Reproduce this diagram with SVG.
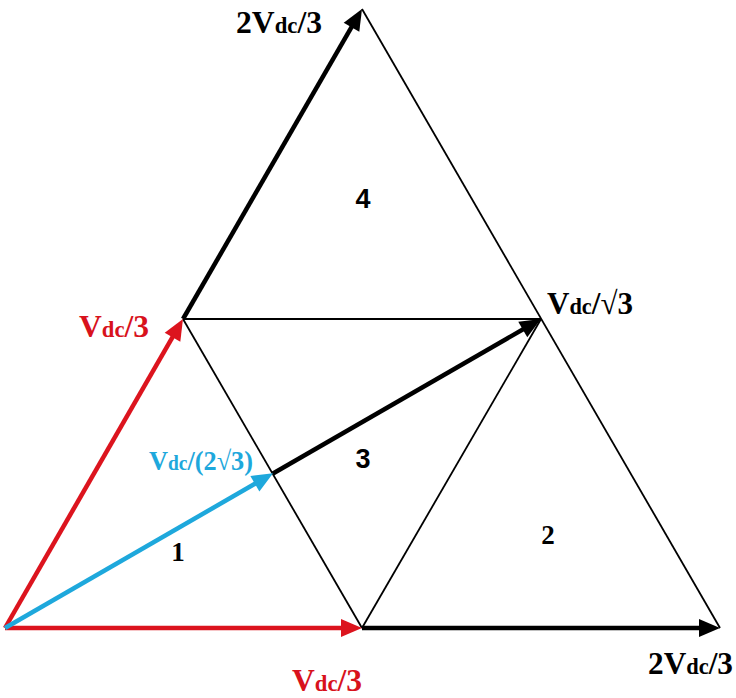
<svg xmlns="http://www.w3.org/2000/svg" width="736" height="698" viewBox="0 0 736 698">
<style>
.thin{stroke:#000;stroke-width:1.8;fill:none}
.vec{stroke-width:4.5;fill:none}
.blk{stroke:#000}
.red{stroke:#dc141e}
.cyan{stroke:#1ea8dc}
.lbl{font-family:"Liberation Serif","Times New Roman",serif;font-weight:bold}
.big{font-size:32px}
.sm{font-size:23px}
.num{font-size:27px;font-weight:bold}
.serif{font-family:"Liberation Serif","Times New Roman",serif}
.sans{font-family:"Liberation Sans",Arial,sans-serif}
</style>
<defs>
<marker id="ahB" markerUnits="userSpaceOnUse" markerWidth="24" markerHeight="22" viewBox="-12 -11 24 22" refX="0" refY="0" orient="auto"><path d="M10,0 L-11,-9 L-11,9 Z" fill="#000"/></marker>
<marker id="ahR" markerUnits="userSpaceOnUse" markerWidth="24" markerHeight="22" viewBox="-12 -11 24 22" refX="0" refY="0" orient="auto"><path d="M10,0 L-11,-9 L-11,9 Z" fill="#dc141e"/></marker>
<marker id="ahC" markerUnits="userSpaceOnUse" markerWidth="24" markerHeight="22" viewBox="-12 -11 24 22" refX="0" refY="0" orient="auto"><path d="M10,0 L-11,-9 L-11,9 Z" fill="#1ea8dc"/></marker>
</defs>
<rect width="736" height="698" fill="#fff"/>
<g id="connectors">
<line class="thin" x1="362" y1="9" x2="720" y2="628"/>
<line class="thin" x1="183" y1="319" x2="541" y2="319"/>
<line class="thin" x1="183" y1="319" x2="362" y2="628"/>
<line class="thin" x1="362" y1="628" x2="541" y2="319"/>
<line class="vec red" x1="5" y1="628" x2="352" y2="628" marker-end="url(#ahR)"/>
<line class="vec blk" x1="362" y1="628" x2="710" y2="628" marker-end="url(#ahB)"/>
<line class="vec red" x1="5" y1="628" x2="178" y2="327.7" marker-end="url(#ahR)"/>
<line class="vec blk" x1="183" y1="319" x2="357" y2="17.7" marker-end="url(#ahB)"/>
<line class="vec cyan" x1="5" y1="628" x2="264.4" y2="478.3" marker-end="url(#ahC)"/>
<line class="vec blk" x1="273" y1="473.5" x2="532.3" y2="324" marker-end="url(#ahB)"/>
</g>
<g id="label-top"><text class="lbl" x="236" y="33" textLength="86" lengthAdjust="spacingAndGlyphs"><tspan class="big">2V</tspan><tspan class="sm">dc</tspan><tspan class="big">/3</tspan></text></g>
<g id="label-left" fill="#d8121c"><text class="lbl" x="79" y="337" textLength="70" lengthAdjust="spacingAndGlyphs"><tspan class="big">V</tspan><tspan class="sm">dc</tspan><tspan class="big">/3</tspan></text></g>
<g id="label-mid"><text class="lbl" x="547" y="314" textLength="86" lengthAdjust="spacingAndGlyphs"><tspan class="big">V</tspan><tspan class="sm">dc</tspan><tspan class="big">/√3</tspan></text></g>
<g id="label-cyan" fill="#1ea8dc"><text class="lbl" x="149" y="470" textLength="104" lengthAdjust="spacingAndGlyphs"><tspan font-size="27">V</tspan><tspan font-size="20">dc</tspan><tspan font-size="27">/(2√3)</tspan></text></g>
<g id="label-bottom" fill="#d8121c"><text class="lbl" x="292" y="691" textLength="70" lengthAdjust="spacingAndGlyphs"><tspan class="big">V</tspan><tspan class="sm">dc</tspan><tspan class="big">/3</tspan></text></g>
<g id="label-right"><text class="lbl" x="648" y="674" textLength="85" lengthAdjust="spacingAndGlyphs"><tspan class="big">2V</tspan><tspan class="sm">dc</tspan><tspan class="big">/3</tspan></text></g>
<g id="region-1"><text class="num serif" x="178" y="561" text-anchor="middle">1</text></g>
<g id="region-2"><text class="num serif" x="548" y="544" text-anchor="middle">2</text></g>
<g id="region-3"><text class="num sans" x="363" y="468" text-anchor="middle">3</text></g>
<g id="region-4"><text class="num sans" x="363" y="208" text-anchor="middle">4</text></g>
</svg>
